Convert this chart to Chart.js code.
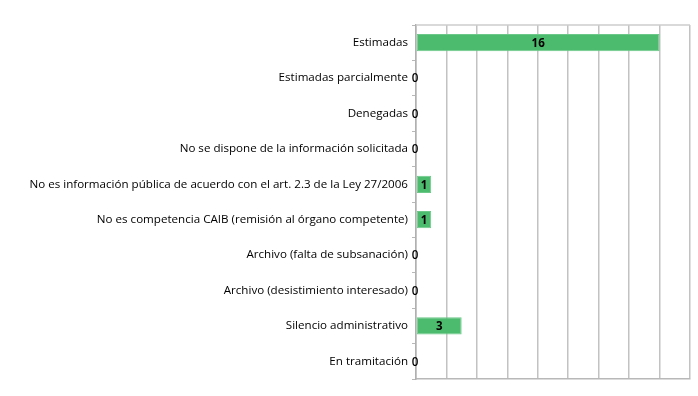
<!DOCTYPE html>
<html>
<head>
<meta charset="utf-8">
<script src="https://cdn.jsdelivr.net/npm/chart.js@4/dist/chart.umd.min.js"></script>
<style>
  html, body { margin: 0; padding: 0; background: #fff; }
  #wrap { width: 698px; height: 396px; }
</style>
</head>
<body>
<div id="wrap"><canvas id="resolChart" width="698" height="396"></canvas></div>
<script>
// categories and counts
var categories = [
    'Estimadas',
    'Estimadas parcialmente',
    'Denegadas',
    'No se dispone de la información solicitada',
    'No es información pública de acuerdo con el art. 2.3 de la Ley 27/2006',
    'No es competencia CAIB (remisión al órgano competente)',
    'Archivo (falta de subsanación)',
    'Archivo (desistimiento interesado)',
    'Silencio administrativo',
    'En tramitación'
];
var counts = [16, 0, 0, 0, 1, 1, 0, 0, 3, 0];

// draws the number on each bar (also the zeros, at the axis)
var valueLabels = {
    id: 'valueLabels',
    afterDatasetsDraw: function(chart) {
        var ctx = chart.ctx;
        var meta = chart.getDatasetMeta(0);
        ctx.save();
        ctx.textAlign = 'center';
        ctx.textBaseline = 'middle';
        ctx.fillStyle = '#000';
        meta.data.forEach(function(bar, i) {
            var v = counts[i];
            ctx.font = (v > 0 ? 'bold 11.5px' : '600 11.6px') + ' "Open Sans"';
            var x = v > 0 ? (bar.x + bar.base) / 2 : bar.base - 1;
            ctx.fillText(String(v), x, bar.y + 1);
        });
        ctx.restore();
    }
};

// light line along the top of the plot area
var topLine = {
    id: 'topLine',
    beforeDatasetsDraw: function(chart) {
        var a = chart.chartArea;
        var ctx = chart.ctx;
        ctx.save();
        ctx.strokeStyle = '#cdcdcd';
        ctx.lineWidth = 1.5;
        ctx.beginPath();
        ctx.moveTo(a.left, a.top);
        ctx.lineTo(a.right, a.top);
        ctx.stroke();
        ctx.restore();
    }
};

var ctx = document.getElementById('resolChart').getContext('2d');
new Chart(ctx, {
    type: 'bar',
    data: {
        labels: categories,
        datasets: [{
            data: counts,
            backgroundColor: '#4dbb6e',
            borderColor: '#6cc889',
            borderWidth: function(c) { return counts[c.dataIndex] > 0 ? 1 : 0; },
            borderSkipped: false,
            barPercentage: 0.98,
            categoryPercentage: 0.5
        }]
    },
    options: {
        indexAxis: 'y',
        responsive: false,
        animation: false,
        layout: { padding: { top: 25, right: 8, bottom: 17, left: 0 } },
        plugins: {
            legend: { display: false },
            tooltip: { enabled: false }
        },
        scales: {
            x: {
                min: 0,
                max: 18,
                ticks: { stepSize: 2, display: false },
                grid: { color: '#c2c2c2', lineWidth: 1.5, drawTicks: false },
                border: { display: true, color: '#b8b8b8', width: 1.5 }
            },
            y: {
                afterFit: function(scale) { scale.width = 416; },
                ticks: {
                    color: '#000',
                    font: { family: '"Open Sans"', size: 11.6 },
                    padding: 4
                },
                grid: { offset: true, drawOnChartArea: false, tickLength: 4, color: '#b8b8b8' },
                border: { color: '#b0b0b0', width: 1.5 }
            }
        }
    },
    plugins: [valueLabels, topLine]
});
</script>
</body>
</html>
